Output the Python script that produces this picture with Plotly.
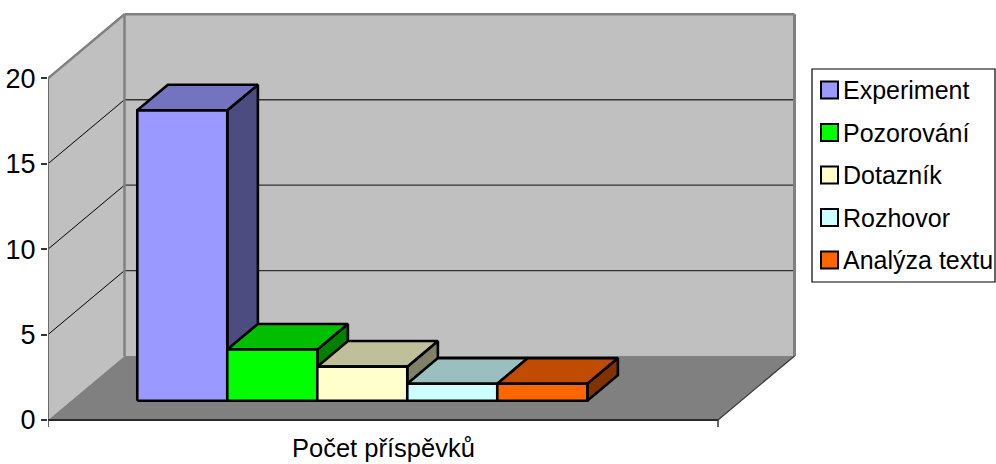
import plotly.graph_objects as go

# ---- data -------------------------------------------------------------
categories = ["Experiment", "Pozorování", "Dotazník", "Rozhovor", "Analýza textu"]
values = [17, 3, 2, 1, 1]
y_ticks = [0, 5, 10, 15, 20]
axis_title = "Počet příspěvků"
front_colors = ["#9999FF", "#00FF00", "#FFFFCC", "#CCFFFF", "#FF6600"]

# ---- geometry of the oblique 3-D frame (data units) -------------------
W_PX, H_PX = 996, 464
M_LEFT = 48                 # left margin, front value axis sits on it
ZERO_PX = 420               # pixel row of value 0 on the front plane
PX_X = 90.0                 # pixels per category-axis unit (one bar width)
PX_Y = 17.085               # pixels per value unit
Y_TOP = 20                  # wall height in value units
FLOOR_W = 670 / PX_X        # width of the floor along the category axis
DEPTH_DX = 76.5 / PX_X      # oblique offset of the full depth (x)
DEPTH_DY = 64 / PX_Y        # oblique offset of the full depth (y)
BAR_FRONT, BAR_BACK = 0.3, 0.7
GAP_LEFT = 0.737
BAR_W = 1.0

FONT = "Liberation Sans, Arial, sans-serif"


def proj(x, v, d):
    """Oblique projection of (category x, value v, depth d in 0..1)."""
    return x + d * DEPTH_DX, v + d * DEPTH_DY


def shade(hex_color, f):
    h = hex_color.lstrip("#")
    r, g, b = (int(h[i:i + 2], 16) for i in (0, 2, 4))
    return "#%02X%02X%02X" % (round(r * f), round(g * f), round(b * f))


def poly(points, fill, line_color=None, line_width=0):
    xs = [p[0] for p in points] + [points[0][0]]
    ys = [p[1] for p in points] + [points[0][1]]
    return go.Scatter(
        x=xs, y=ys, mode="lines", fill="toself", fillcolor=fill,
        line=dict(color=line_color or fill, width=line_width),
        hoverinfo="skip", showlegend=False,
    )


def seg(p, q, color, width):
    return go.Scatter(
        x=[p[0], q[0]], y=[p[1], q[1]], mode="lines",
        line=dict(color=color, width=width),
        hoverinfo="skip", showlegend=False,
    )


fig = go.Figure()

# ---- walls and floor --------------------------------------------------
WALL = "#C0C0C0"
FLOOR = "#808080"
EDGE = "#808080"

side_wall = [proj(0, 0, 0), proj(0, Y_TOP, 0), proj(0, Y_TOP, 1), proj(0, 0, 1)]
back_wall = [proj(0, 0, 1), proj(FLOOR_W, 0, 1), proj(FLOOR_W, Y_TOP, 1), proj(0, Y_TOP, 1)]
floor = [proj(0, 0, 0), proj(FLOOR_W, 0, 0), proj(FLOOR_W, 0, 1), proj(0, 0, 1)]

fig.add_trace(poly(side_wall, WALL))
fig.add_trace(poly(back_wall, WALL))
fig.add_trace(poly(floor, FLOOR))

# gridlines on the side wall and the back wall
for v in y_ticks[1:-1]:
    fig.add_trace(seg(proj(0, v, 0), proj(0, v, 1), "#000000", 1))
    fig.add_trace(seg(proj(0, v, 1), proj(FLOOR_W, v, 1), "#333333", 1.3))

# frame edges
fig.add_trace(seg(proj(0, Y_TOP, 0), proj(0, Y_TOP, 1), EDGE, 2.5))
fig.add_trace(seg(proj(0, Y_TOP, 1), proj(FLOOR_W, Y_TOP, 1), EDGE, 2.5))
fig.add_trace(seg(proj(0, 0, 1), proj(0, Y_TOP, 1), EDGE, 2.5))
fig.add_trace(seg(proj(FLOOR_W, 0, 1), proj(FLOOR_W, Y_TOP, 1), EDGE, 3))
fig.add_trace(seg(proj(0, 0, 0), proj(0, Y_TOP, 0), "#6A6A6A", 2))
fig.add_trace(seg(proj(FLOOR_W, 0, 0), proj(FLOOR_W, 0, 1), "#3A3A3A", 1.3))
fig.add_trace(seg(proj(0, 0, 0), proj(FLOOR_W, 0, 0), "#2A2A2A", 2))

# category axis ticks below the floor edge
tick_down = -7 / PX_Y
fig.add_trace(seg((0, 0), (0, tick_down), "#333333", 1.5))
fig.add_trace(seg((FLOOR_W, 0), (FLOOR_W, tick_down), "#333333", 1.5))

# ---- bars -------------------------------------------------------------
for i, (v, col) in enumerate(zip(values, front_colors)):
    x0 = GAP_LEFT + i * BAR_W
    x1 = x0 + BAR_W
    f, b = BAR_FRONT, BAR_BACK
    side = [proj(x1, 0, f), proj(x1, 0, b), proj(x1, v, b), proj(x1, v, f)]
    top = [proj(x0, v, f), proj(x1, v, f), proj(x1, v, b), proj(x0, v, b)]
    front = [proj(x0, 0, f), proj(x1, 0, f), proj(x1, v, f), proj(x0, v, f)]
    fig.add_trace(poly(side, shade(col, 0.5), "#000000", 2.6))
    fig.add_trace(poly(top, shade(col, 0.75), "#000000", 2.6))
    fig.add_trace(poly(front, col, "#000000", 2.6))

# ---- category label ---------------------------------------------------
fig.add_annotation(
    x=FLOOR_W / 2, y=-28 / PX_Y, xref="x", yref="y",
    text=axis_title, showarrow=False,
    font=dict(family=FONT, size=25.5, color="#000000"),
    xanchor="center", yanchor="middle",
)

# ---- legend -----------------------------------------------------------
LEG_X0, LEG_X1, LEG_Y0, LEG_Y1 = 812, 995, 69, 282
LEG_ROW0, LEG_STEP = 90, 42.5
SWATCH = 17


def px(xp):
    # paper x spans the plot area only, which starts after the left margin
    return (xp - M_LEFT) / (W_PX - M_LEFT)


def py(yp):
    return 1 - yp / H_PX


fig.add_shape(type="rect", xref="paper", yref="paper",
              x0=px(LEG_X0), x1=px(LEG_X1), y0=py(LEG_Y1), y1=py(LEG_Y0),
              line=dict(color="#000000", width=1.2), fillcolor="#FFFFFF",
              layer="above")
for i, (name, col) in enumerate(zip(categories, front_colors)):
    yc = LEG_ROW0 + i * LEG_STEP
    fig.add_shape(type="rect", xref="paper", yref="paper",
                  x0=px(821), x1=px(821 + SWATCH),
                  y0=py(yc + SWATCH / 2), y1=py(yc - SWATCH / 2),
                  line=dict(color="#000000", width=2), fillcolor=col,
                  layer="above")
    fig.add_annotation(
        x=px(841), y=py(yc), xref="paper", yref="paper",
        text=name, showarrow=False, xanchor="left", yanchor="middle",
        font=dict(family=FONT, size=25, color="#000000"),
    )

# ---- layout -----------------------------------------------------------
fig.update_layout(
    width=W_PX, height=H_PX,
    margin=dict(l=M_LEFT, r=0, t=0, b=0),
    paper_bgcolor="#FFFFFF", plot_bgcolor="#FFFFFF",
    showlegend=False,
    xaxis=dict(range=[0, (W_PX - M_LEFT) / PX_X], visible=False, fixedrange=True),
    yaxis=dict(
        range=[-(H_PX - ZERO_PX) / PX_Y, ZERO_PX / PX_Y],
        tickvals=y_ticks, ticktext=[str(t) for t in y_ticks],
        ticks="outside", ticklen=6, tickwidth=1.5, tickcolor="#333333",
        showgrid=False, zeroline=False, showline=False,
        tickfont=dict(family=FONT, size=27, color="#000000"),
        fixedrange=True,
    ),
)

fig.write_html("out.html")
